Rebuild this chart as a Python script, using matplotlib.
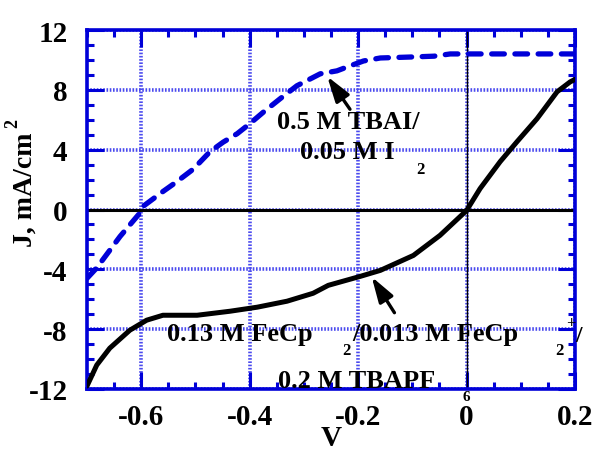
import numpy as np
import matplotlib.pyplot as plt
from matplotlib.ticker import MultipleLocator

plt.rcParams["font.family"] = ["Liberation Serif", "DejaVu Serif"]
plt.rcParams["font.weight"] = "bold"
plt.rcParams["axes.unicode_minus"] = False

# 0.5 M TBAI / 0.05 M I2 (blue dashed)
v_tbai = [-0.700, -0.682, -0.639, -0.600, -0.597, -0.560, -0.534, -0.504, -0.473,
          -0.449, -0.423, -0.400, -0.375, -0.344, -0.313, -0.270, -0.239, -0.215,
          -0.190, -0.159, -0.098, -0.060, -0.030, 0.050, 0.120, 0.200]
j_tbai = [-4.6, -3.9, -1.8, -0.13, 0.2, 1.2, 1.87, 2.7, 3.87,
          4.5, 5.07, 5.73, 6.5, 7.4, 8.27, 9.07, 9.27, 9.6,
          9.93, 10.13, 10.2, 10.25, 10.4, 10.4, 10.4, 10.4]

# 0.13 M FeCp2 / 0.013 M FeCp2+ / 0.2 M TBAPF6 (black solid)
v_fecp = [-0.700, -0.682, -0.658, -0.621, -0.590, -0.560, -0.497, -0.436, -0.386,
          -0.331, -0.283, -0.255, -0.196, -0.159, -0.098, -0.049, 0.000, 0.025,
          0.062, 0.093, 0.130, 0.167, 0.191, 0.200]
j_fecp = [-11.8, -10.4, -9.27, -8.07, -7.4, -7.07, -7.07, -6.8, -6.53,
          -6.13, -5.6, -5.07, -4.47, -4.07, -3.07, -1.73, -0.07, 1.4,
          3.2, 4.53, 6.07, 7.87, 8.53, 8.7]

xticks = [-0.6, -0.4, -0.2, 0, 0.2]
xticklabels = ["-0.6", "-0.4", "-0.2", "0", "0.2"]
yticks = [-12, -8, -4, 0, 4, 8, 12]

blue = "#0000d8"
W, H = 592, 452
fig = plt.figure(figsize=(W / 100, H / 100), dpi=100)
ax = fig.add_axes([87 / W, 1 - 390 / H, 488 / W, 359 / H])

ax.set_xlim(-0.7, 0.2)
ax.set_ylim(-12, 12)

ax.grid(True, which="major", color="#4a4aee", linestyle=(0, (0.45, 0.45)), linewidth=2.6)
ax.axhline(0, color="black", lw=2.2, zorder=2)
ax.axvline(0, color="black", lw=1.0, zorder=2)

ax.plot(v_tbai, j_tbai, color=blue, lw=3.8, linestyle=(0, (2.4, 2.0)),
        dash_capstyle="round", zorder=3)
ax.plot(v_fecp, j_fecp, color="black", lw=3.6, solid_capstyle="round",
        solid_joinstyle="round", zorder=3)

ax.set_xticks(xticks)
ax.set_xticklabels(xticklabels)
ax.set_yticks(yticks)
ax.xaxis.set_minor_locator(MultipleLocator(0.05))
ax.yaxis.set_minor_locator(MultipleLocator(1))
ax.tick_params(which="both", direction="in", top=True, right=True, color=blue,
               width=2.2, labelsize=21)
ax.tick_params(axis="x", which="major", pad=10)
ax.tick_params(axis="y", which="major", pad=14)
ax.tick_params(which="major", length=12)
ax.tick_params(which="minor", length=5)
for lab in ax.get_xticklabels() + ax.get_yticklabels():
    lab.set_fontweight("bold")
for sp in ax.spines.values():
    sp.set_color(blue)
    sp.set_linewidth(2.6)

ax.set_xlabel("V", fontsize=21, fontweight="bold", labelpad=-4)
fig.text(25 / W, 1 - 190 / H, "J, mA/cm", rotation=90, fontsize=20,
         fontweight="bold", ha="center", va="center")
fig.text(13 / W, 1 - 124 / H, "2", rotation=90, fontsize=13,
         fontweight="bold", ha="center", va="center")

# annotations
arrow = dict(arrowstyle="-|>,head_length=0.7,head_width=0.22", color="black",
             lw=2.4, mutation_scale=22, shrinkA=0, shrinkB=0)
ax.annotate("", xy=(-0.257, 8.9), xytext=(-0.215, 6.7), arrowprops=arrow)
ax.text(-0.2185, 5.9, "0.5 M TBAI/", fontsize=19, fontweight="bold",
        ha="center", va="center", zorder=4)
ax.text(-0.2203, 3.85, "0.05 M I", fontsize=19, fontweight="bold",
        ha="center", va="center", zorder=4)
ax.text(-0.0856, 2.7, "2", fontsize=12, fontweight="bold",
        ha="center", va="center", zorder=4)

ax.annotate("", xy=(-0.175, -4.5), xytext=(-0.133, -6.9), arrowprops=arrow)
ax.text(-0.4186, -8.27, "0.13 M FeCp", fontsize=19, fontweight="bold",
        ha="center", va="center", zorder=4)
ax.text(-0.222, -9.4, "2", fontsize=12, fontweight="bold",
        ha="center", va="center", zorder=4)
ax.text(-0.057, -8.27, "/0.013 M FeCp", fontsize=19, fontweight="bold",
        ha="center", va="center", zorder=4)
ax.text(0.171, -9.4, "2", fontsize=12, fontweight="bold",
        ha="center", va="center", zorder=4)
ax.text(0.193, -7.6, "+", fontsize=12, fontweight="bold",
        ha="center", va="center", zorder=4)
ax.text(0.206, -8.4, "/", fontsize=17, fontweight="bold",
        ha="center", va="center", zorder=4, clip_on=False)
ax.text(-0.2028, -11.4, "0.2 M TBAPF", fontsize=19, fontweight="bold",
        ha="center", va="center", zorder=4)
ax.text(-0.001, -12.5, "6", fontsize=11, fontweight="bold",
        ha="center", va="center", zorder=4, clip_on=False)

fig.savefig("out.png", dpi=100)
